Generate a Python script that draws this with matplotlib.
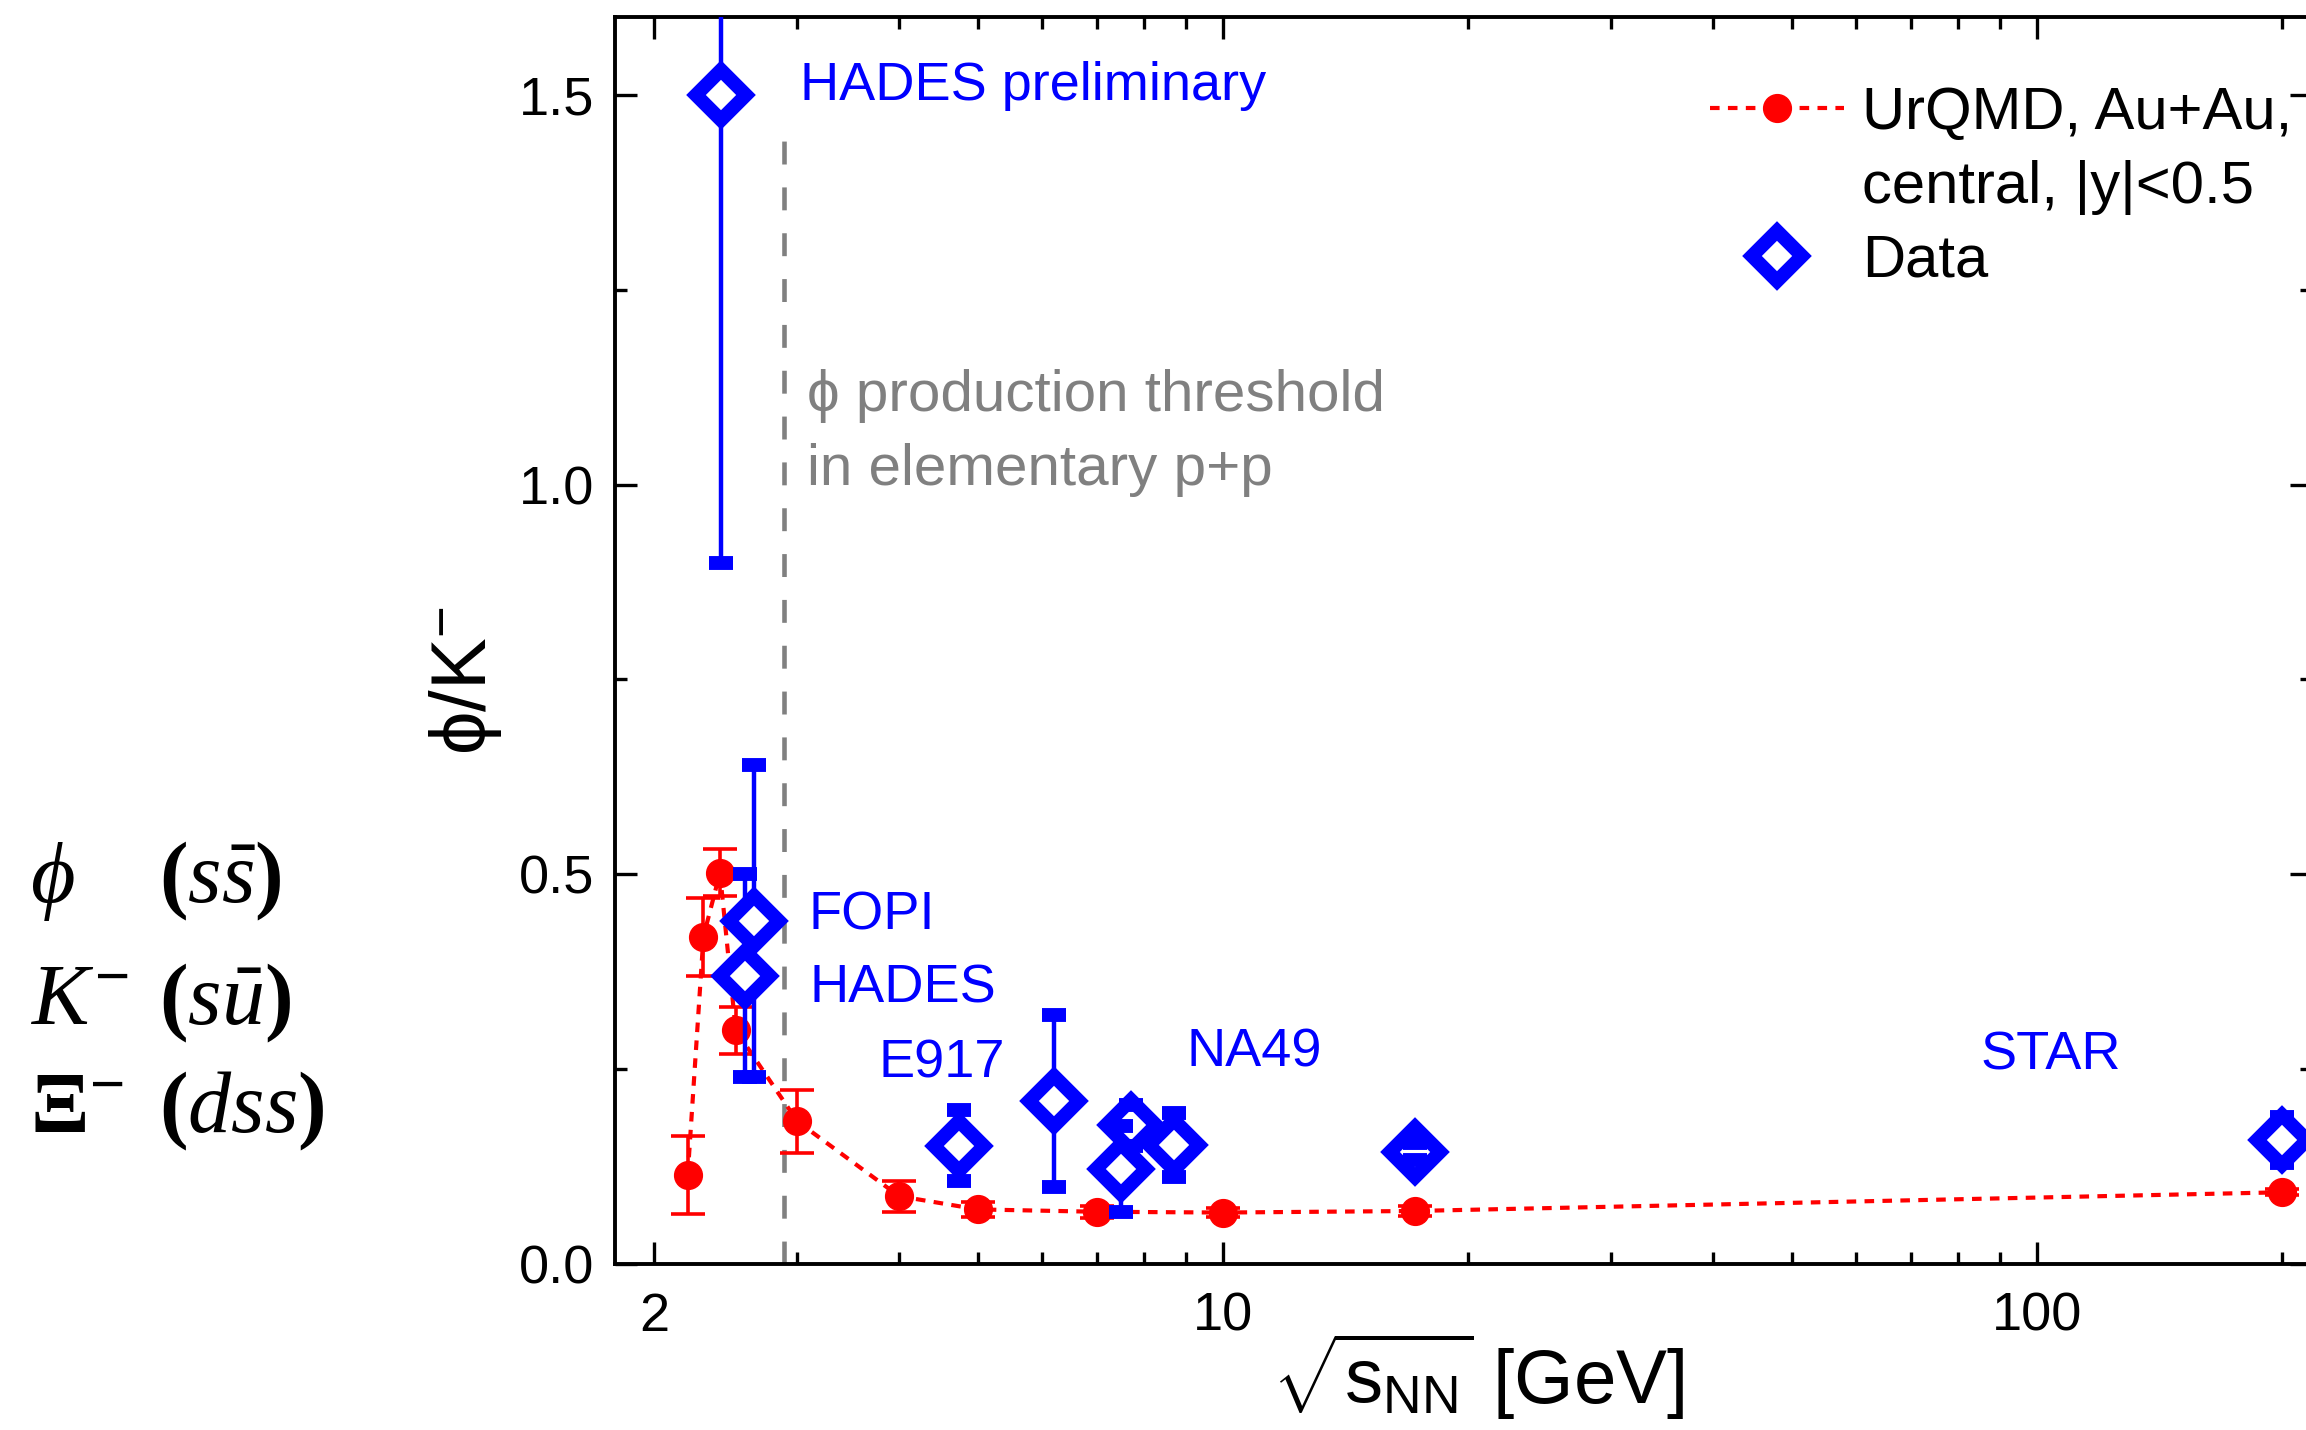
import matplotlib
matplotlib.use('Agg')
import matplotlib.pyplot as plt
from matplotlib.lines import Line2D

plt.rcParams['font.family'] = ['Liberation Sans', 'DejaVu Sans']
plt.rcParams['mathtext.fontset'] = 'custom'
plt.rcParams['mathtext.rm'] = 'Liberation Sans'
plt.rcParams['mathtext.it'] = 'Liberation Serif:italic'
plt.rcParams['mathtext.bf'] = 'Liberation Serif:bold'
plt.rcParams['mathtext.sf'] = 'Liberation Sans'

# UrQMD, Au+Au central, |y|<0.5
urqmd_x = [2.2, 2.3, 2.41, 2.52, 3.0, 4.0, 5.0, 7.0, 10.0, 17.2, 200.0]
urqmd_y = [0.114, 0.420, 0.502, 0.300, 0.183, 0.087, 0.070, 0.067, 0.066, 0.068, 0.092]
urqmd_err = [0.050, 0.050, 0.030, 0.030, 0.040, 0.020, 0.010, 0.008, 0.006, 0.006, 0.004]

# measured phi/K- ratios
data_x = [2.42, 2.65, 2.59, 4.74, 6.2, 7.5, 7.7, 8.7, 17.2, 200.0]
data_y = [1.50, 0.440, 0.370, 0.152, 0.209, 0.1215, 0.178, 0.153, 0.144, 0.159]
data_err = [0.60, 0.20, 0.13, 0.045, 0.11, 0.055, 0.026, 0.041, 0.011, 0.030]

# experiment labels (left edge, baseline)
exp_labels = ['HADES preliminary', 'FOPI', 'HADES', 'E917', 'NA49', 'STAR']
exp_label_x = [3.02, 3.10, 3.105, 3.77, 9.03, 85.3]
exp_label_y = [1.494, 0.429, 0.335, 0.239, 0.254, 0.250]

threshold_x = 2.89
threshold_lines = ['\u03d5 production threshold', 'in elementary p+p']
threshold_y = [1.094, 0.999]

# quark content panel on the left
particle_names = [r'$\phi$', r'$K^{-}$', r'$\mathbf{\Xi}^{-}$']
quark_content = [r'$\mathbf{(}\mathit{s\bar{s}}\mathbf{)}$',
                 r'$\mathbf{(}\mathit{s\bar{u}}\mathbf{)}$',
                 r'$\mathbf{(}\mathit{dss}\mathbf{)}$']
row_baselines = [0.3692, 0.2839, 0.2084]

x_major = [2, 10, 100]
x_minor = [3, 4, 5, 6, 7, 8, 9, 20, 30, 40, 50, 60, 70, 80, 90, 200]
y_major = [0.0, 0.5, 1.0, 1.5]
y_minor = [0.25, 0.75, 1.25]

fig = plt.figure(figsize=(23.06, 14.30), dpi=100)
ax = fig.add_axes([0.2667, 0.1161, 0.7359, 0.8720])

red_dash = (0, (2.3, 2.0))

# UrQMD points
ax.errorbar(urqmd_x, urqmd_y, yerr=urqmd_err, fmt='o', color='red', ls=red_dash, lw=3,
            ms=20, mec='red', capsize=12, elinewidth=2.6, capthick=2.6, zorder=3)

# data points, caps drawn over the open markers
dline, caps, bars = ax.errorbar(data_x, data_y, yerr=data_err, fmt='D', ms=25, mfc='white',
                                mec='blue', mew=10, ecolor='blue', elinewidth=3.2,
                                capsize=8.5, capthick=3.4, zorder=5)
for c in caps:
    c.set_zorder(6)

# threshold line
ax.axvline(threshold_x, ymin=0, ymax=0.915, color='#808080', lw=3.3, ls=(0, (5, 5)), zorder=2)

for lab, lx, ly in zip(exp_labels, exp_label_x, exp_label_y):
    ax.text(lx, ly, lab, color='blue', fontsize=39, ha='left', va='baseline')

for line, ly in zip(threshold_lines, threshold_y):
    ax.text(3.08, ly, line, color='#808080', fontsize=42, ha='left', va='baseline')

ax.set_xscale('log')
ax.set_xlim(1.791, 217.7)
ax.set_ylim(0, 1.6)
ax.set_xticks(x_major)
ax.set_xticklabels([str(v) for v in x_major])
ax.set_xticks(x_minor, minor=True)
ax.set_xticklabels([], minor=True)
ax.set_yticks(y_major)
ax.set_yticklabels(['%.1f' % v for v in y_major])
ax.set_yticks(y_minor, minor=True)

ax.tick_params(which='both', direction='in', top=True, right=True, width=2.4, labelsize=39)
ax.tick_params(which='major', length=16)
ax.tick_params(which='minor', length=8.6)
ax.tick_params(axis='y', which='major', pad=15)
ax.tick_params(axis='x', which='major', pad=20)
for s in ax.spines.values():
    s.set_linewidth(2.8)

ax.set_xlabel(r'$\sqrt{\mathrm{s}_{\mathrm{NN}}}$ [GeV]', fontsize=55)
ax.xaxis.set_label_coords(0.5086, -0.0537)
ax.set_ylabel('\u03d5/K$^{-}$', fontsize=56)
ax.yaxis.set_label_coords(-0.0654, 0.468)

# legend
h_urqmd = Line2D([], [], color='red', ls=red_dash, lw=3, marker='o', ms=20, mec='red')
h_blank = Line2D([], [], ls='none')
h_data = Line2D([], [], ls='none', marker='D', ms=25, mfc='white', mec='blue', mew=10)
ax.legend([h_urqmd, h_blank, h_data], ['UrQMD, Au+Au,', 'central, |y|<0.5', 'Data'],
          loc='upper left', bbox_to_anchor=(0.645, 0.945), frameon=False, fontsize=43,
          borderpad=0, borderaxespad=0, handlelength=2.25, handletextpad=0.3,
          labelspacing=0.32)

for name, quark, yb in zip(particle_names, quark_content, row_baselines):
    fig.text(0.013, yb, name, fontsize=62, ha='left', va='baseline')
    fig.text(0.069, yb, quark, fontsize=62, ha='left', va='baseline')

fig.savefig('out.png', dpi=100)
